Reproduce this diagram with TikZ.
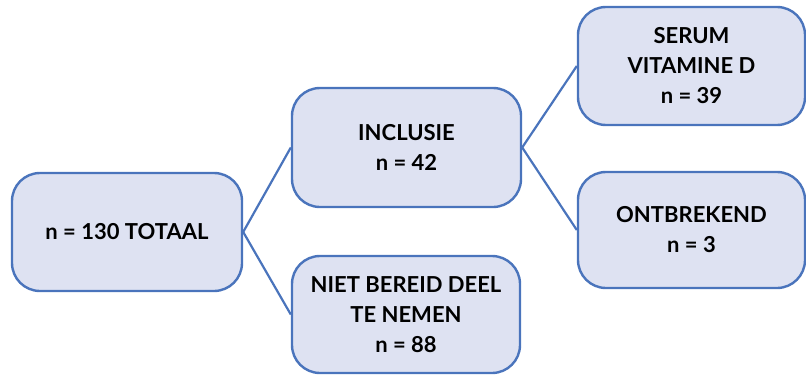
\documentclass[tikz,border=0pt]{standalone}
\usepackage{fontspec}
\setmainfont{Lato}
\definecolor{boxfill}{HTML}{DEE2F2}
\definecolor{boxline}{HTML}{4A74BC}
\begin{document}
\begin{tikzpicture}[x=1pt,y=1pt,
  box/.style={draw=boxline, fill=boxfill, line width=2.4pt, rounded corners=28pt,
    minimum width=#1, align=center, inner sep=0pt,
    font=\fontsize{22}{30}\selectfont\bfseries},
  link/.style={draw=boxline, line width=2.2pt}]
\useasboundingbox (0,0) rectangle (806,376);
\node[box=230pt, minimum height=118pt] (tot) at (127,144) {n = 130 TOTAAL};
\node[box=229pt, minimum height=119pt] (inc) at (406.5,228.5) {INCLUSIE\\n = 42};
\node[box=228pt, minimum height=117pt] (niet) at (406,61.5) {NIET BEREID DEEL\\TE NEMEN\\n = 88};
\node[box=227pt, minimum height=118pt] (ser) at (691.5,310) {SERUM\\VITAMINE D\\n = 39};
\node[box=227pt, minimum height=116pt] (ont) at (691.5,146) {ONTBREKEND\\n = 3};
\draw[link] (tot.east) -- (inc.west);
\draw[link] (tot.east) -- (niet.west);
\draw[link] (inc.east) -- (ser.west);
\draw[link] (inc.east) -- (ont.west);
\end{tikzpicture}
\end{document}
